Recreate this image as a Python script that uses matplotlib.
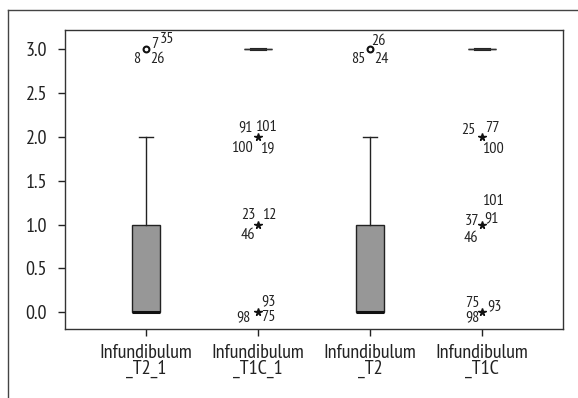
import matplotlib
matplotlib.use("Agg")
import matplotlib.pyplot as plt
from matplotlib.lines import Line2D

# ---- data ----
categories = ["Infundibulum\n_T2_1", "Infundibulum\n_T1C_1", "Infundibulum\n_T2", "Infundibulum\n_T1C"]
q1 = [0.0, 3.0, 0.0, 3.0]
med = [0.0, 3.0, 0.0, 3.0]
q3 = [1.0, 3.0, 1.0, 3.0]
whislo = [0.0, 3.0, 0.0, 3.0]
whishi = [2.0, 3.0, 2.0, 3.0]
# outliers: (category index, value)
mild_outliers = [(0, 3.0), (2, 3.0)]
extreme_outliers = [(1, 2.0), (1, 1.0), (1, 0.0), (3, 2.0), (3, 1.0), (3, 0.0)]
# case labels for each outlier point
outlier_labels = {
    (0, 3.0): ["7", "35", "8", "26"],
    (1, 2.0): ["91", "101", "100", "19"],
    (1, 1.0): ["23", "12", "46"],
    (1, 0.0): ["93", "98", "75"],
    (2, 3.0): ["26", "85", "24"],
    (3, 2.0): ["25", "77", "100"],
    (3, 1.0): ["101", "37", "91", "46"],
    (3, 0.0): ["75", "93", "98"],
}
yticks = [0.0, 0.5, 1.0, 1.5, 2.0, 2.5, 3.0]

# ---- layout (label offsets in pixels) ----
label_offsets = {
    (0, 3.0): [(9, 5), (21, 10), (-9, -10), (11, -10)],
    (1, 2.0): [(-13, 10), (8, 10), (-16, -11), (9, -11)],
    (1, 1.0): [(-10, 10), (11, 10), (-10, -10)],
    (1, 0.0): [(10, 11), (-15, -5), (10, -5)],
    (2, 3.0): [(8, 8), (-12, -10), (11, -10)],
    (3, 2.0): [(-14, 7), (10, 9), (11, -12)],
    (3, 1.0): [(11, 24), (-10, 4), (9, 6), (-11, -13)],
    (3, 0.0): [(-10, 9), (12, 6), (-10, -5)],
}

FONT = ["PT Sans Narrow", "DejaVu Sans"]
plt.rcParams["font.family"] = FONT
plt.rcParams["font.weight"] = "normal"

fig = plt.figure(figsize=(5.78, 3.98), dpi=100)
ax = fig.add_axes([65/578, 69/398, (563-65)/578, (329-30)/398])

stats = []
for i in range(len(categories)):
    stats.append(dict(med=med[i], q1=q1[i], q3=q3[i], whislo=whislo[i],
                      whishi=whishi[i], fliers=[], label=categories[i]))
positions = list(range(1, len(categories) + 1))
art = ax.bxp(stats, positions=positions, widths=0.25, patch_artist=True,
             showfliers=False,
             boxprops=dict(facecolor="#979797", edgecolor="#222222", linewidth=1.0),
             medianprops=dict(color="#111111", linewidth=2.2),
             whiskerprops=dict(color="#222222", linewidth=1.0),
             capprops=dict(color="#222222", linewidth=1.0),
             capwidths=0.125)
# degenerate boxes: thin full-width line with thicker centre
for i in range(len(categories)):
    if q1[i] == q3[i]:
        art["medians"][i].set_linewidth(1.0)
        art["medians"][i].set_color("#333333")
        for c in art["caps"][2*i:2*i+2]:
            c.set_linewidth(2.2)
            c.set_color("#222222")

for (ci, v) in mild_outliers:
    ax.plot(positions[ci], v, marker="o", markersize=4.2, markerfacecolor="white",
            markeredgecolor="#111111", markeredgewidth=1.5, linestyle="none")
for (ci, v) in extreme_outliers:
    ax.plot(positions[ci], v, marker="*", markersize=5.5, color="#111111",
            linestyle="none")

px2pt = 72 / 100
for key, labs in outlier_labels.items():
    ci, v = key
    for lab, (dx, dy) in zip(labs, label_offsets[key]):
        ax.annotate(lab, xy=(positions[ci], v), xytext=(dx * px2pt, dy * px2pt),
                    textcoords="offset points", ha="center", va="center",
                    fontsize=11.5, color="#222222")

ax.set_xlim(0.277, 4.723)
ax.set_ylim(-0.19, 3.22)
ax.set_yticks(yticks)
ax.set_yticklabels([f"{t:.1f}" for t in yticks])
ax.set_xticks(positions)
ax.set_xticklabels(categories, linespacing=0.85)
ax.tick_params(axis="y", length=5, width=1, pad=8, labelsize=14.5, colors="#222222")
ax.tick_params(axis="x", length=5, width=1, pad=6, labelsize=14.5, colors="#222222")
for s in ax.spines.values():
    s.set_color("#333333")
    s.set_linewidth(1.0)

# outer frame
fig.add_artist(Line2D([8/578, 1.0], [1 - 10/398, 1 - 10/398], transform=fig.transFigure,
                      color="#444444", linewidth=1.0))
fig.add_artist(Line2D([8/578, 8/578], [0.0, 1 - 10/398], transform=fig.transFigure,
                      color="#444444", linewidth=1.0))

fig.savefig("out.png", dpi=100)
